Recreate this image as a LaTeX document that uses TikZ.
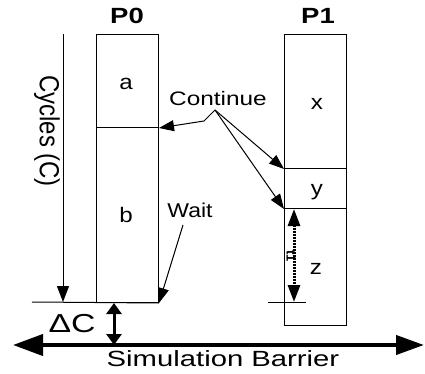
\documentclass[tikz,border=0pt]{standalone}
\usepackage{fontspec}
\setmainfont{Liberation Sans}
\usetikzlibrary{arrows.meta}
\begin{document}
\begin{tikzpicture}[x=1pt,y=-1pt,
  box/.style={draw,line width=1pt,inner sep=0pt,anchor=north west,minimum width=62pt},
  txt/.style={anchor=base,inner sep=0pt},
  arr/.style={line width=1pt,-{Triangle[length=15pt,width=11pt]}},
  line/.style={line width=1pt}]
\useasboundingbox (0,0) rectangle (425,374);
% boxes
\node[box,minimum height=93pt] (A) at (96,34) {};
\node[box,minimum height=175pt] (B) at (96,127) {};
\node[box,minimum height=134pt] (X) at (284,34) {};
\node[box,minimum height=40pt] (Y) at (284,168) {};
\node[box,minimum height=117pt] (Z) at (284,208) {};
% titles
\node[txt,font=\fontsize{22}{22}\selectfont\bfseries,xscale=1.25] (p0) at (127,24) {P0};
\node[txt,font=\fontsize{22}{22}\selectfont\bfseries,xscale=1.25] (p1) at (318,24) {P1};
% box texts
\node[txt,font=\fontsize{21}{21}\selectfont,xscale=1.15] (ta) at (126,90) {a};
\node[txt,font=\fontsize{21}{21}\selectfont,xscale=1.15] (tb) at (126,222) {b};
\node[txt,font=\fontsize{21}{21}\selectfont,xscale=1.15] (tx) at (317,110) {x};
\node[txt,font=\fontsize{21}{21}\selectfont,xscale=1.15] (ty) at (317,195) {y};
\node[txt,font=\fontsize{21}{21}\selectfont,xscale=1.15] (tz) at (316,274) {z};
% Cycles
\node[font=\fontsize{24}{24}\selectfont,rotate=-90,yscale=1.15,inner sep=0pt] (cyc) at (47,131) {Cycles (C)};
\coordinate (ctop) at (63,34);
\coordinate (cbot) at (63,302);
\draw[line width=1pt,-{Triangle[length=16pt,width=12pt]}] (ctop) -- (cbot);
\coordinate (bl) at (32,302);
\draw[line] (bl) -- (B.south east);
% Continue
\node[txt,font=\fontsize{19.5}{19.5}\selectfont,xscale=1.25] (cont) at (218,106) {Continue};
\coordinate (J) at (215,110);
\coordinate (K) at (204,121);
\draw[arr] (J) -- (K) -- (A.south east);
\draw[arr] (J) -- (X.south west);
\draw[arr] (J) -- (Y.south west);
% Wait
\node[txt,font=\fontsize{20}{20}\selectfont,xscale=1.15] (wait) at (190,217) {Wait};
\coordinate (W) at (183,225);
\draw[arr] (W) -- (B.south east);
% t1 interval
\coordinate (tk1) at (268,302);
\coordinate (tk2) at (306,302);
\draw[line] (tk1) -- (tk2);
\coordinate (dtop) at (294,209);
\coordinate (dbot) at (294,302);
\draw[line width=3pt,dash pattern=on 2pt off 1pt,{Triangle[length=17pt,width=12pt]}-{Triangle[length=17pt,width=12pt]}] (dtop) -- (dbot);
\node[font=\fontsize{13}{13}\selectfont\bfseries,rotate=-90,inner sep=0pt] (t1) at (291,256) {t1};
% Delta C
\node[txt,font=\fontsize{26}{26}\selectfont,xscale=1.3] (dc) at (72,332) {ΔC};
\coordinate (d1) at (114,303);
\coordinate (d2) at (114,345);
\draw[line width=3pt,{Triangle[length=11pt,width=15pt]}-{Triangle[length=11pt,width=15pt]}] (d1) -- (d2);
% barrier
\coordinate (bL) at (13,345);
\coordinate (bR) at (424,345);
\draw[line width=4pt,{Triangle[length=30pt,width=21pt]}-{Triangle[length=28pt,width=19pt]}] (bL) -- (bR);
\node[txt,font=\fontsize{22}{22}\selectfont,xscale=1.33] (sb) at (223,366) {Simulation Barrier};
\end{tikzpicture}
\end{document}
